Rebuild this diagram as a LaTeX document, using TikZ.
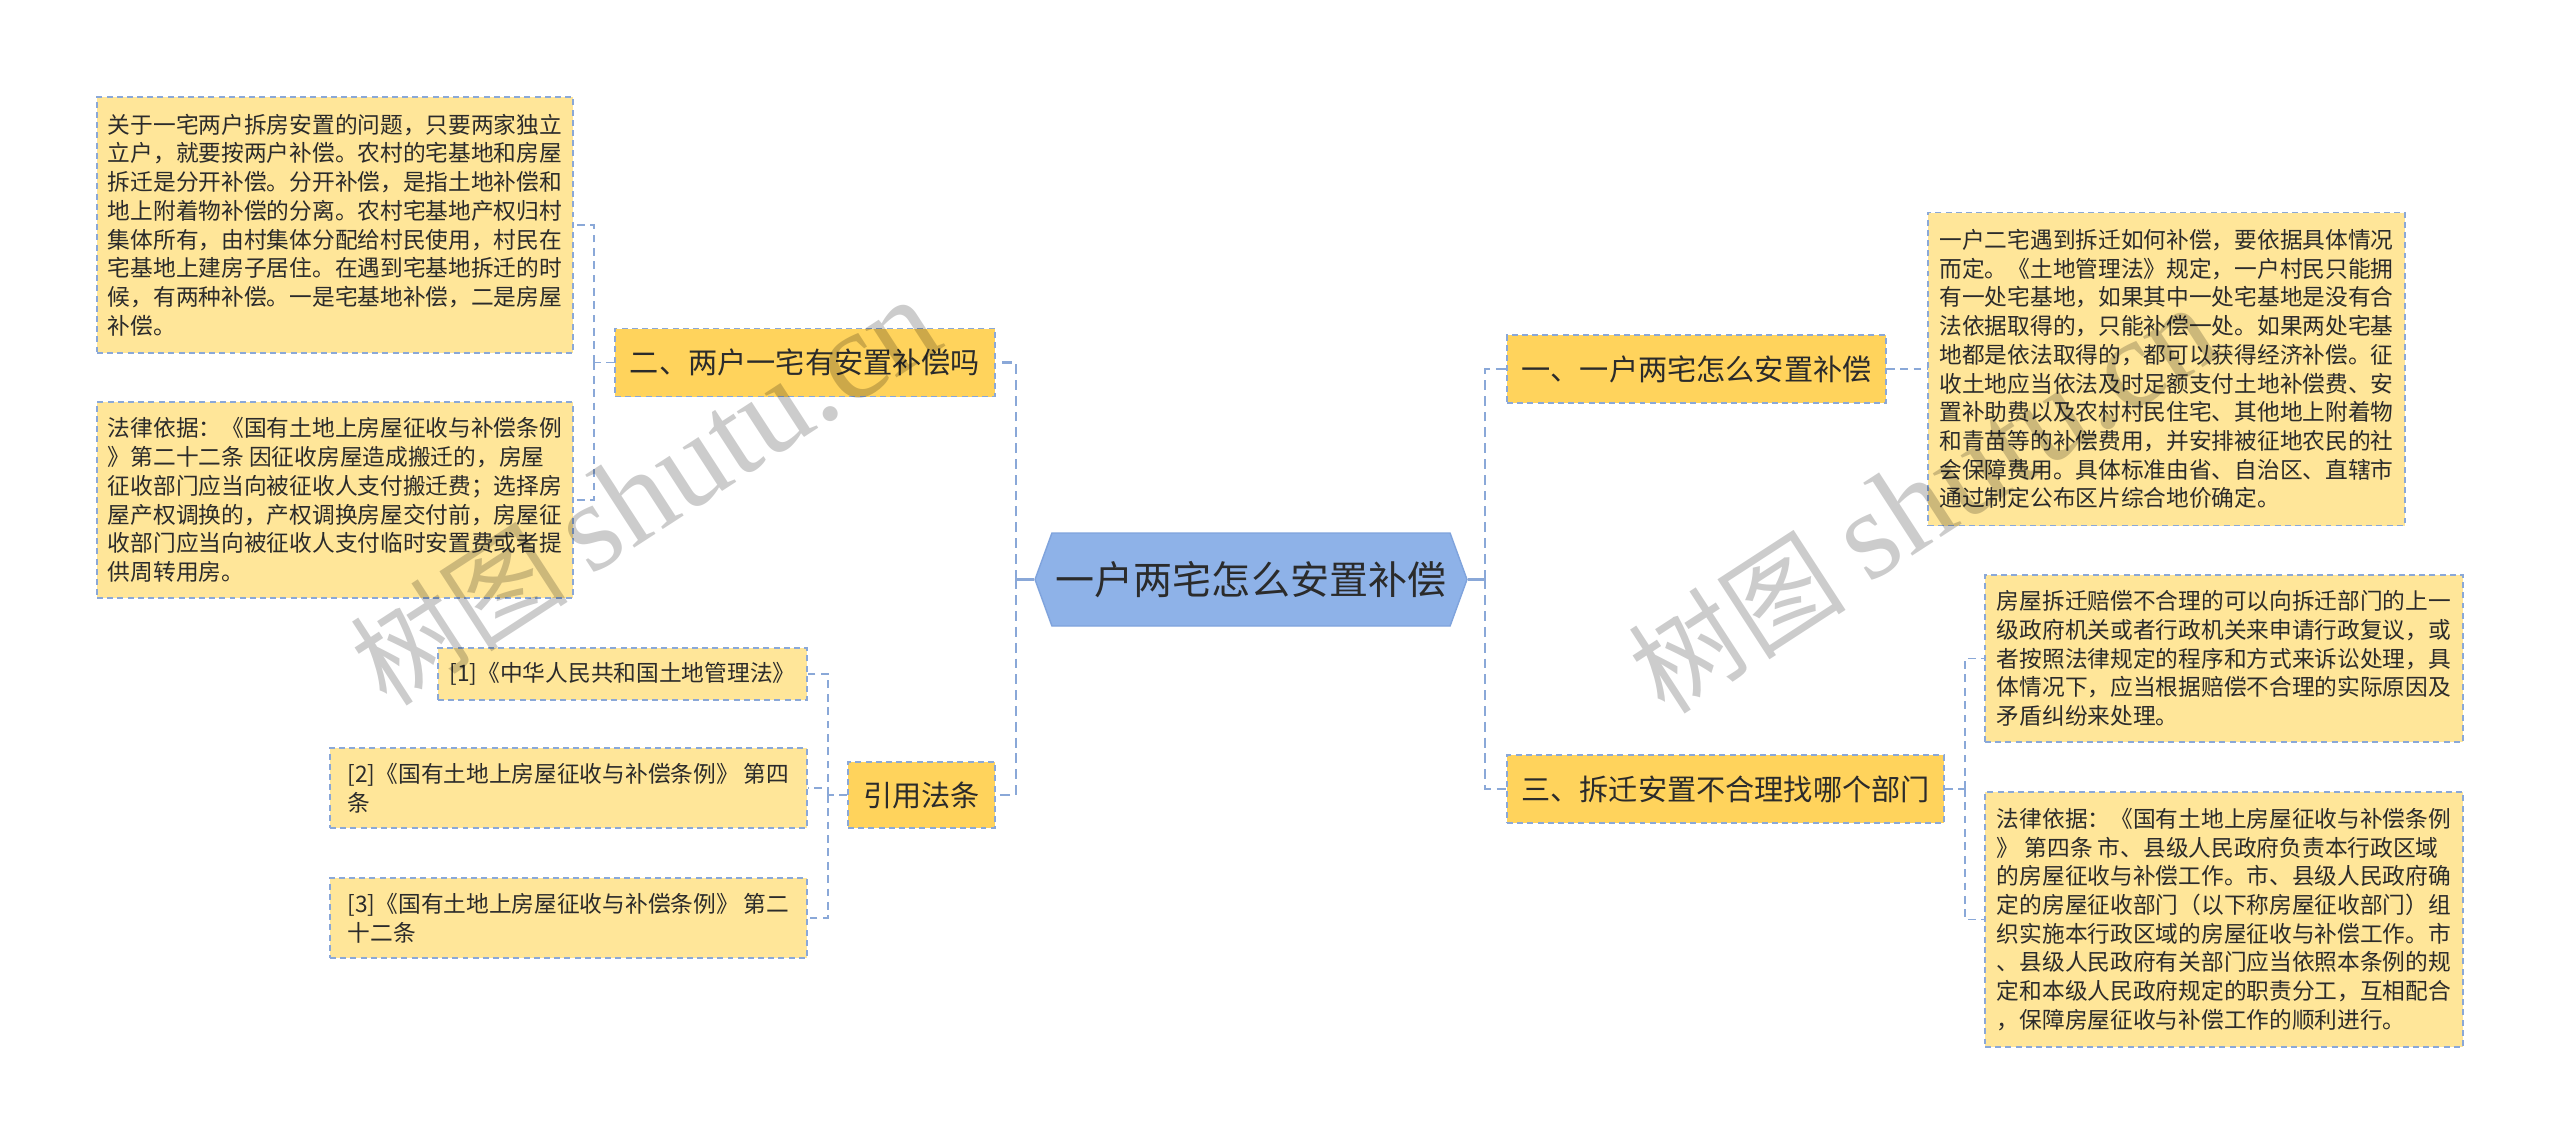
\documentclass[tikz,border=0pt]{standalone}
\usepackage{fontspec}
\setmainfont{Noto Sans CJK SC}
\newfontfamily\wmlatin{Liberation Serif}
\usetikzlibrary{shapes.symbols}
\definecolor{hubblue}{HTML}{8EB2E8}
\definecolor{hubedge}{HTML}{7FA3DC}
\definecolor{gold}{HTML}{FFD35C}
\definecolor{paleyellow}{HTML}{FFE699}
\definecolor{linkblue}{HTML}{8AA8D8}
\definecolor{ink}{HTML}{2B2B2B}

\begin{document}
\begin{tikzpicture}[
  hub/.style={signal,signal to=west and east,signal pointer angle=140,fill=hubblue,draw=hubedge,line width=0.4pt,minimum width=4.320cm,minimum height=0.930cm,inner sep=0pt,font=\fontsize{11.1pt}{13pt}\selectfont,text=ink},
  topic/.style={rectangle,fill=gold,draw=linkblue,dash pattern=on 1.7pt off 1.2pt,line width=0.45pt,minimum height=0.680cm,inner sep=0pt,font=\fontsize{8.3pt}{10pt}\selectfont,text=ink},
  notebox/.style={rectangle,fill=paleyellow,draw=linkblue,dash pattern=on 1.7pt off 1.2pt,line width=0.45pt,align=left,minimum width=4.760cm,inner sep=0pt,font=\fontsize{6.46pt}{8.17pt}\selectfont,text=ink},
  trunk/.style={draw=linkblue,line width=0.75pt,dash pattern=on 2.8pt off 1.7pt},
  stub/.style={draw=linkblue,line width=0.75pt},
  link/.style={draw=linkblue,line width=0.45pt,dash pattern=on 2.2pt off 1.6pt},
  wmark/.style={text=black,text opacity=0.2,inner sep=0pt,rotate=33,font=\fontsize{31pt}{36pt}\selectfont}
]
\useasboundingbox[fill=white] (0.000,0.000) rectangle (25.600,-11.450);

\node[hub] (hub) at (12.510,-5.795) {一户两宅怎么安置补偿};

\node[topic,minimum width=3.800cm] (q2) at (8.050,-3.625) {二、两户一宅有安置补偿吗};
\node[topic,minimum width=1.470cm,minimum height=0.660cm] (refs) at (9.215,-7.950) {引用法条};
\node[topic,minimum width=3.790cm] (q1) at (16.965,-3.690) {一、一户两宅怎么安置补偿};
\node[topic,minimum width=4.370cm] (q3) at (17.255,-7.890) {三、拆迁安置不合理找哪个部门};

\node[notebox,minimum height=2.560cm] (a1) at (3.350,-2.250) {关于一宅两户拆房安置的问题，只要两家独立\\
立户，就要按两户补偿。农村的宅基地和房屋\\
拆迁是分开补偿。分开补偿，是指土地补偿和\\
地上附着物补偿的分离。农村宅基地产权归村\\
集体所有，由村集体分配给村民使用，村民在\\
宅基地上建房子居住。在遇到宅基地拆迁的时\\
候，有两种补偿。一是宅基地补偿，二是房屋\\
补偿。};
\node[notebox,minimum height=1.960cm] (a2) at (3.350,-5.000) {法律依据：《国有土地上房屋征收与补偿条例\\
》第二十二条 因征收房屋造成搬迁的，房屋\\
征收部门应当向被征收人支付搬迁费；选择房\\
屋产权调换的，产权调换房屋交付前，房屋征\\
收部门应当向被征收人支付临时安置费或者提\\
供周转用房。};

\node[notebox,minimum width=3.690cm,minimum height=0.520cm] (r1) at (6.225,-6.740) {[1]《中华人民共和国土地管理法》};
\node[notebox,minimum width=4.770cm,minimum height=0.800cm] (r2) at (5.685,-7.880) {[2]《国有土地上房屋征收与补偿条例》 第四\\
条};
\node[notebox,minimum width=4.770cm,minimum height=0.800cm] (r3) at (5.685,-9.180) {[3]《国有土地上房屋征收与补偿条例》 第二\\
十二条};

\node[notebox,minimum width=4.770cm,minimum height=3.130cm] (b1) at (21.665,-3.690) {一户二宅遇到拆迁如何补偿，要依据具体情况\\
而定。《土地管理法》规定，一户村民只能拥\\
有一处宅基地，如果其中一处宅基地是没有合\\
法依据取得的，只能补偿一处。如果两处宅基\\
地都是依法取得的，都可以获得经济补偿。征\\
收土地应当依法及时足额支付土地补偿费、安\\
置补助费以及农村村民住宅、其他地上附着物\\
和青苗等的补偿费用，并安排被征地农民的社\\
会保障费用。具体标准由省、自治区、直辖市\\
通过制定公布区片综合地价确定。};

\node[notebox,minimum width=4.780cm,minimum height=1.670cm] (c1) at (22.240,-6.585) {房屋拆迁赔偿不合理的可以向拆迁部门的上一\\
级政府机关或者行政机关来申请行政复议，或\\
者按照法律规定的程序和方式来诉讼处理，具\\
体情况下，应当根据赔偿不合理的实际原因及\\
矛盾纠纷来处理。};
\node[notebox,minimum width=4.780cm,minimum height=2.550cm] (c2) at (22.240,-9.195) {法律依据：《国有土地上房屋征收与补偿条例\\
》 第四条 市、县级人民政府负责本行政区域\\
的房屋征收与补偿工作。市、县级人民政府确\\
定的房屋征收部门（以下称房屋征收部门）组\\
织实施本行政区域的房屋征收与补偿工作。市\\
、县级人民政府有关部门应当依照本条例的规\\
定和本级人民政府规定的职责分工，互相配合\\
，保障房屋征收与补偿工作的顺利进行。};

\coordinate (hl) at (10.160,-5.795);
\coordinate (hr) at (14.850,-5.795);
\coordinate (j2) at (5.940,-3.625);
\coordinate (jr) at (8.280,-7.950);
\coordinate (j3) at (19.650,-7.890);

\draw[stub] (hub.west) -- (hl);
\draw[trunk] (hl) |- (q2.east);
\draw[trunk] (hl) |- (refs.east);
\draw[stub] (hub.east) -- (hr);
\draw[trunk] (hr) |- (q1.west);
\draw[trunk] (hr) |- (q3.west);

\draw[link] (q2.west) -- (j2);
\draw[link] (j2) |- (a1.east);
\draw[link] (j2) |- (a2.east);
\draw[link] (refs.west) -- (jr);
\draw[link] (jr) |- (r1.east);
\draw[link] (jr) |- (r2.east);
\draw[link] (jr) |- (r3.east);
\draw[link] (q1.east) -- (b1.west);
\draw[link] (q3.east) -- (j3);
\draw[link] (j3) |- (c1.west);
\draw[link] (j3) |- (c2.west);

\node[wmark] (wm1) at (6.450,-4.920) {树图 {\wmlatin\fontsize{36pt}{36pt}\selectfont shutu.cn}};
\node[wmark] (wm2) at (19.230,-5.000) {树图 {\wmlatin\fontsize{36pt}{36pt}\selectfont shutu.cn}};
\end{tikzpicture}
\end{document}
